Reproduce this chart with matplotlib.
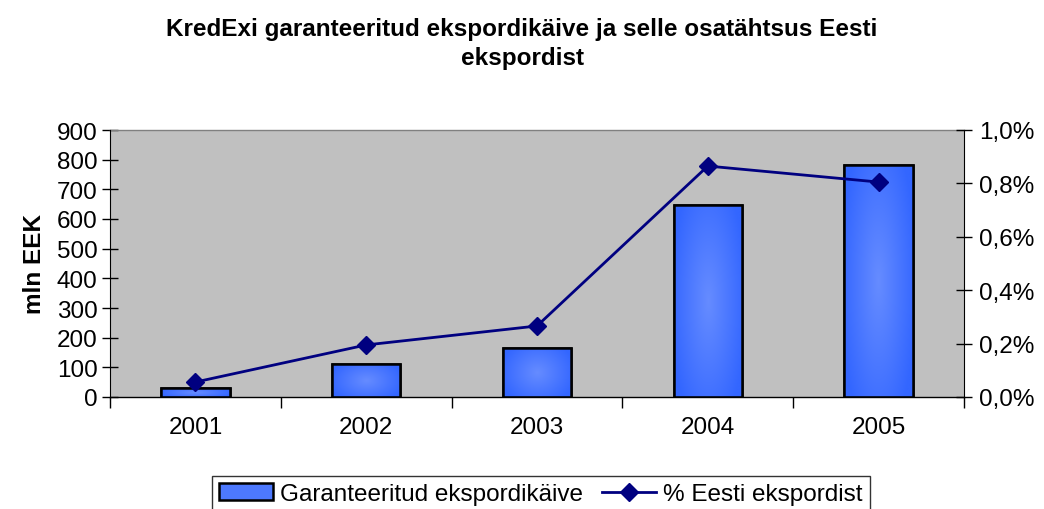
import numpy as np
import matplotlib
matplotlib.use("Agg")
import matplotlib.pyplot as plt
from matplotlib.ticker import FuncFormatter, MultipleLocator
from matplotlib.lines import Line2D
from matplotlib.patches import Patch

plt.rcParams['font.family'] = ['Liberation Sans', 'DejaVu Sans']

years = ["2001", "2002", "2003", "2004", "2005"]
turnover = [30, 111, 165, 647, 782]          # mln EEK
share_pct = [0.056, 0.195, 0.266, 0.865, 0.805]  # % of Estonian exports

title = "KredExi garanteeritud ekspordikäive ja selle osatähtsus Eesti\nekspordist"
bar_label = "Garanteeritud ekspordikäive"
line_label = "% Eesti ekspordist"
ylabel = "mln EEK"

FS = 17.5

fig = plt.figure(figsize=(10.44, 5.10), dpi=100)
ax = fig.add_axes([110/1044, 1-398/510, (964-110)/1044, (398-131)/510])
ax.set_facecolor("#c0c0c0")

x = np.arange(len(years))
bars = ax.bar(x, turnover, width=0.40, color="#3366ff", edgecolor="black", linewidth=1.8, zorder=2)

# gradient fill: lighter center, darker edges
n = 64
u = np.linspace(-1, 1, n)
U, V = np.meshgrid(u, u)
dist = np.sqrt(U**2 * 0.8 + V**2 * 0.5)
dist = np.clip(dist, 0, 1)
c_center = np.array([0x66, 0x8c, 0xff]) / 255
c_edge = np.array([0x33, 0x66, 0xff]) / 255
img = c_center[None, None, :] * (1 - dist[..., None]) + c_edge[None, None, :] * dist[..., None]
for b in bars:
    x0, y0 = b.get_x(), b.get_y()
    w, h = b.get_width(), b.get_height()
    im = ax.imshow(img, extent=[x0, x0 + w, y0, y0 + h], aspect='auto', zorder=2.1, interpolation='bilinear')
    im.set_clip_path(b)
    ax.add_patch(plt.Rectangle((x0, y0), w, h, fill=False, edgecolor="black", linewidth=1.8, zorder=2.2))

ax.set_xlim(-0.5, len(years) - 0.5)
ax.set_ylim(0, 900)
ax.yaxis.set_major_locator(MultipleLocator(100))
ax.set_xticks(x)
ax.set_xticklabels(years, fontsize=FS)
ax.set_xticks(np.arange(-0.5, len(years), 1), minor=True)
ax.tick_params(axis='x', which='major', length=0, pad=14)
ax.tick_params(axis='x', which='minor', length=8, direction='out', width=1)
ax.tick_params(axis='y', labelsize=FS, direction='inout', length=12, width=1, pad=3)
ax.set_ylabel(ylabel, fontsize=FS, fontweight='bold', labelpad=8)

for s in ['top', 'right']:
    ax.spines[s].set_visible(False)
ax.spines['left'].set_color('black')
ax.spines['bottom'].set_color('black')
ax.spines['bottom'].set_linewidth(1.0)

ax2 = ax.twinx()
ax2.plot(x, share_pct, color="#000080", marker='D', markersize=9, linewidth=2, zorder=5)
ax2.set_ylim(0, 1.0)
ax2.yaxis.set_major_locator(MultipleLocator(0.2))
ax2.yaxis.set_major_formatter(FuncFormatter(lambda v, p: f"{v:.1f}%".replace('.', ',')))
ax2.tick_params(axis='y', labelsize=FS, direction='inout', length=12, width=1, pad=5)
for s in ['top', 'left', 'bottom']:
    ax2.spines[s].set_visible(False)
ax2.spines['right'].set_color('black')
ax.plot([0, 1], [1, 1], transform=ax.transAxes, color='#808080', lw=1, clip_on=False)

fig.text(0.5, 1 - 44/510, title, ha='center', va='center', fontsize=17.5, fontweight='bold', linespacing=1.35)

handles = [Patch(facecolor="#4d79ff", edgecolor="black", linewidth=1.8),
           Line2D([0], [0], color="#000080", marker='D', markersize=9, linewidth=2)]
leg = fig.legend(handles, [bar_label, line_label], loc='center', bbox_to_anchor=(541/1044, 1 - 495/510),
                 ncol=2, fontsize=FS, frameon=True, fancybox=False, edgecolor='black',
                 handlelength=2.2, handletextpad=0.3, columnspacing=0.8, borderpad=0.3)
leg.get_frame().set_linewidth(1)

fig.savefig("out.png", dpi=100)
